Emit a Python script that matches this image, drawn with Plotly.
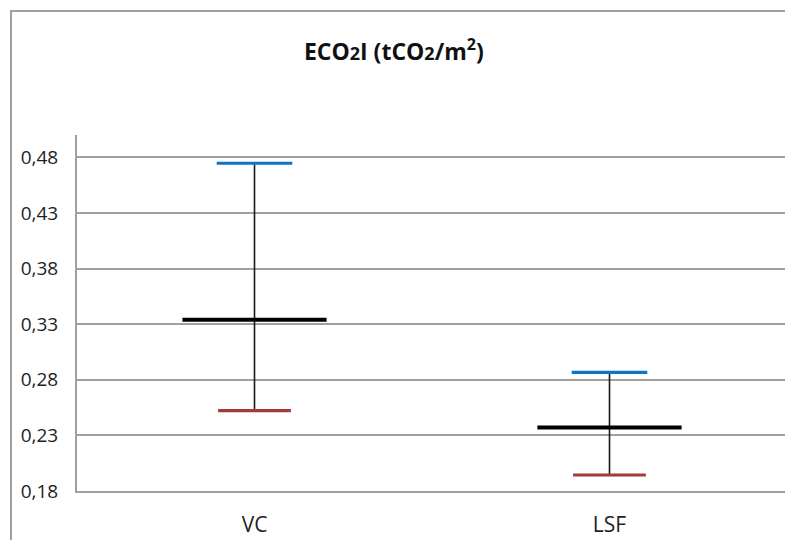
import plotly.graph_objects as go

categories = ["VC", "LSF"]
high_values = [0.4746, 0.2866]
mean_values = [0.334, 0.237]
low_values = [0.2523, 0.1944]
y_ticks = [0.18, 0.23, 0.28, 0.33, 0.38, 0.43, 0.48]
title_text = ("ECO<span style='font-size:18px'>2</span>I "
              "(tCO<span style='font-size:18px'>2</span>/m<sup>2</sup>)")

fig = go.Figure()

# vertical whisker lines
vx, vy = [], []
for c, h, l in zip(categories, high_values, low_values):
    vx += [c, c, None]
    vy += [h, l, None]
fig.add_trace(go.Scatter(x=vx, y=vy, mode="lines",
                         line=dict(color="#1a1a1a", width=1.6),
                         hoverinfo="skip", showlegend=False))

# line-ew marker length is 1.4 * size
fig.add_trace(go.Scatter(x=categories, y=high_values, mode="markers", name="max",
                         marker=dict(symbol="line-ew", size=54, color="#1272C4",
                                     line=dict(color="#1272C4", width=3.2)),
                         showlegend=False))
fig.add_trace(go.Scatter(x=categories, y=low_values, mode="markers", name="min",
                         marker=dict(symbol="line-ew", size=52, color="#A33B39",
                                     line=dict(color="#A33B39", width=3.2)),
                         showlegend=False))
fig.add_trace(go.Scatter(x=categories, y=mean_values, mode="markers", name="mean",
                         marker=dict(symbol="line-ew", size=103, color="#000000",
                                     line=dict(color="#000000", width=4)),
                         showlegend=False))

# page body has an 8px margin, so the figure is offset by 8px
fig.update_layout(
    width=785, height=532,
    margin=dict(l=69, r=6, t=127, b=49),
    paper_bgcolor="white", plot_bgcolor="white",
    separators=",.",
    font=dict(family="Open Sans", color="#1e1e1e"),
    title=dict(text=title_text, x=0.4915, xanchor="center", y=0.918, yanchor="middle",
               font=dict(family="Open Sans", size=23, color="#111111", weight="bold")),
    xaxis=dict(type="category", categoryorder="array", categoryarray=categories,
               range=[-0.5, 1.5], showgrid=False, showline=True, linecolor="#A0A0A0",
               linewidth=2, ticks="", tickfont=dict(size=21), ticklabelstandoff=14,
               zeroline=False, automargin=False),
    yaxis=dict(range=[0.18, 0.50], tickvals=y_ticks, tickformat=".2f",
               showgrid=True, gridcolor="#A0A0A0", gridwidth=1.5,
               showline=True, linecolor="#A0A0A0", linewidth=2,
               ticks="", tickfont=dict(size=19), ticklabelstandoff=13,
               zeroline=False, automargin=False),
    shapes=[dict(type="rect", xref="paper", yref="paper",
                 x0=(11 - 77) / 710, x1=1.03, y0=-0.3, y1=(491 - 11) / 356,
                 line=dict(color="#A0A0A0", width=2), layer="below")],
)

fig.write_html("out.html")
